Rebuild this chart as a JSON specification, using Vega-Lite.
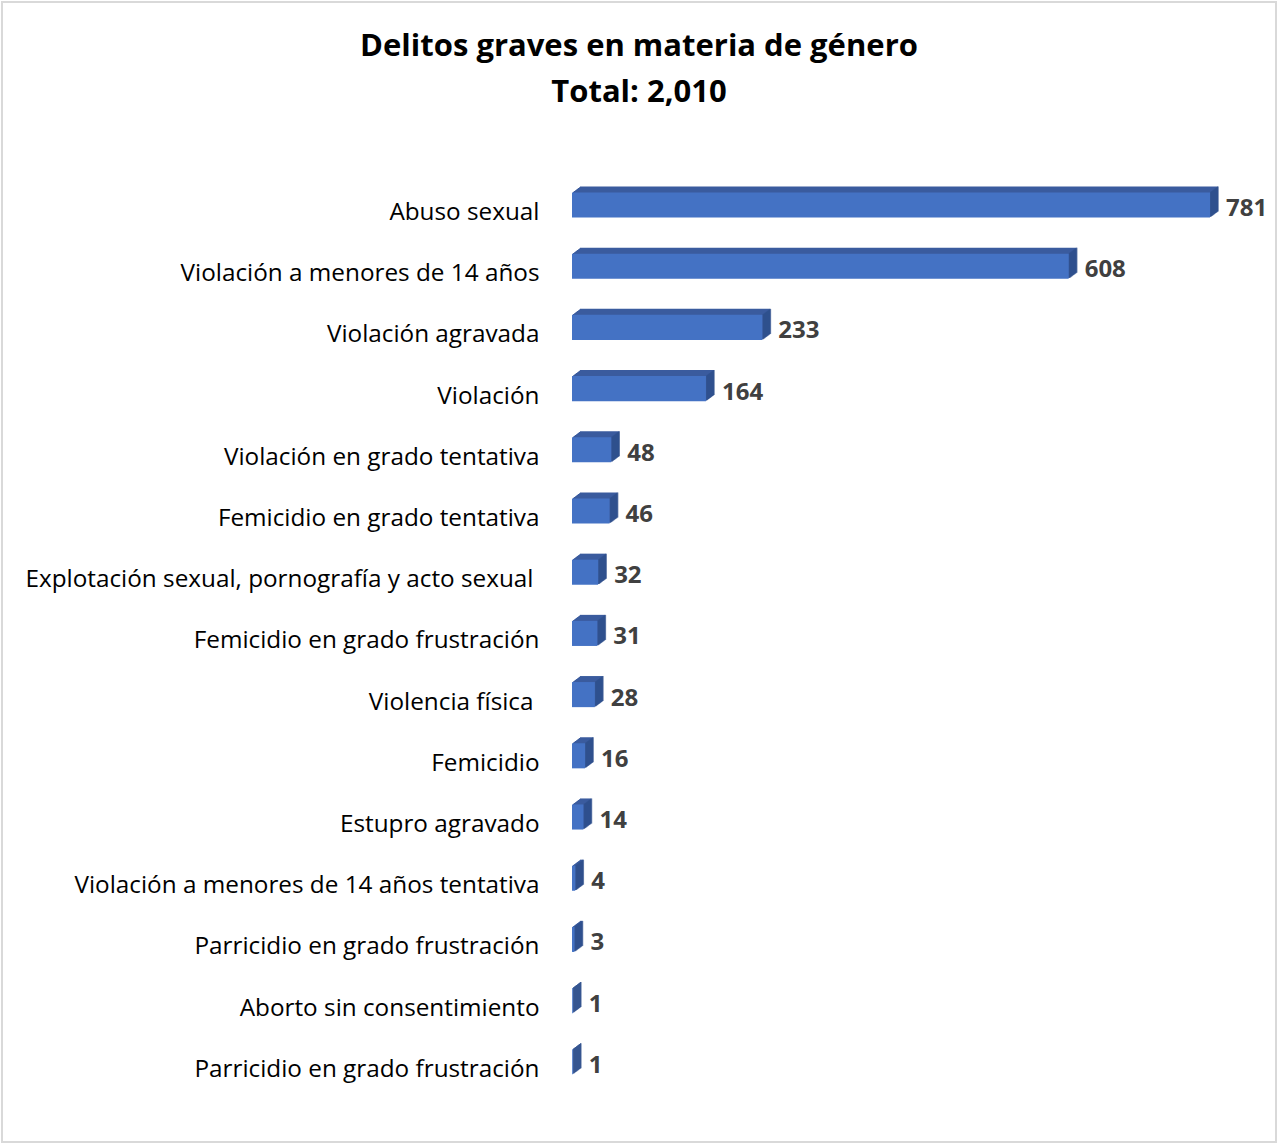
{
  "$schema": "https://vega.github.io/schema/vega-lite/v6.json",
  "width": 1274,
  "height": 1140,
  "autosize": {"type": "none"},
  "padding": {"left": 2, "top": 2, "right": 2, "bottom": 2},
  "background": "white",
  "config": {"view": {"stroke": "#d9d9d9", "strokeWidth": 2}, "font": "Open Sans"},
  "title": {
    "text": ["Delitos graves en materia de género", "Total: 2,010"],
    "fontSize": 31,
    "fontWeight": "bold",
    "color": "#000000",
    "anchor": "middle",
    "frame": "group",
    "baseline": "top",
    "offset": -107,
    "lineHeight": 46,
    "font": "Open Sans"
  },
  "data": {
    "values": [
      {"cat": "Abuso sexual", "n": 781},
      {"cat": "Violación a menores de 14 años", "n": 608},
      {"cat": "Violación agravada", "n": 233},
      {"cat": "Violación", "n": 164},
      {"cat": "Violación en grado tentativa", "n": 48},
      {"cat": "Femicidio en grado tentativa", "n": 46},
      {"cat": "Explotación sexual, pornografía y acto sexual", "n": 32},
      {"cat": "Femicidio en grado frustración", "n": 31},
      {"cat": "Violencia física", "n": 28},
      {"cat": "Femicidio", "n": 16},
      {"cat": "Estupro agravado", "n": 14},
      {"cat": "Violación a menores de 14 años tentativa", "n": 4},
      {"cat": "Parricidio en grado frustración", "n": 3},
      {"cat": "Aborto sin consentimiento", "n": 1},
      {"cat": "Parricidio en grado frustración\u200b", "n": 1}
    ]
  },
  "encoding": {
    "y": {
      "field": "cat",
      "type": "nominal",
      "sort": null,
      "scale": {"range": [172.4, 1090.4], "paddingInner": 0.59, "paddingOuter": 0.295},
      "axis": {
        "title": null,
        "domain": false,
        "ticks": false,
        "grid": false,
        "labelPadding": {"condition": {"test": "indexof(datum.label, 'Explotaci') >= 0 || indexof(datum.label, 'Violencia f') >= 0", "value": 16}, "value": 10},
        "offset": -547,
        "labelFontSize": 24.3,
        "labelColor": "#000000",
        "labelFont": "Open Sans",
        "labelLimit": 700,
        "labelOffset": 8
      }
    },
    "x": {
      "field": "n",
      "type": "quantitative",
      "scale": {"domain": [0, 781], "range": [570, 1208], "nice": false, "zero": true},
      "axis": null
    }
  },
  "layer": [
    {"mark": {"type": "bar", "color": "#3A5B9E", "xOffset": 1, "x2Offset": 1, "yOffset": -0.75, "y2Offset": -0.75}},
    {"mark": {"type": "bar", "color": "#3A5B9E", "xOffset": 2, "x2Offset": 2, "yOffset": -1.5, "y2Offset": -1.5}},
    {"mark": {"type": "bar", "color": "#3A5B9E", "xOffset": 3, "x2Offset": 3, "yOffset": -2.25, "y2Offset": -2.25}},
    {"mark": {"type": "bar", "color": "#3A5B9E", "xOffset": 4, "x2Offset": 4, "yOffset": -3, "y2Offset": -3}},
    {"mark": {"type": "bar", "color": "#3A5B9E", "xOffset": 5, "x2Offset": 5, "yOffset": -3.75, "y2Offset": -3.75}},
    {"mark": {"type": "bar", "color": "#3A5B9E", "xOffset": 6, "x2Offset": 6, "yOffset": -4.5, "y2Offset": -4.5}},
    {"mark": {"type": "bar", "color": "#3A5B9E", "xOffset": 7, "x2Offset": 7, "yOffset": -5.25, "y2Offset": -5.25}},
    {"mark": {"type": "bar", "color": "#3A5B9E", "xOffset": 8, "x2Offset": 8, "yOffset": -6, "y2Offset": -6}},
    {"mark": {"type": "tick", "color": "#2E4E8A", "size": 25, "thickness": 1.6, "xOffset": 1, "yOffset": -0.75}},
    {"mark": {"type": "tick", "color": "#2E4E8A", "size": 25, "thickness": 1.6, "xOffset": 2, "yOffset": -1.5}},
    {"mark": {"type": "tick", "color": "#2E4E8A", "size": 25, "thickness": 1.6, "xOffset": 3, "yOffset": -2.25}},
    {"mark": {"type": "tick", "color": "#2E4E8A", "size": 25, "thickness": 1.6, "xOffset": 4, "yOffset": -3}},
    {"mark": {"type": "tick", "color": "#2E4E8A", "size": 25, "thickness": 1.6, "xOffset": 5, "yOffset": -3.75}},
    {"mark": {"type": "tick", "color": "#2E4E8A", "size": 25, "thickness": 1.6, "xOffset": 6, "yOffset": -4.5}},
    {"mark": {"type": "tick", "color": "#2E4E8A", "size": 25, "thickness": 1.6, "xOffset": 7, "yOffset": -5.25}},
    {"mark": {"type": "tick", "color": "#2E4E8A", "size": 25, "thickness": 1.6, "xOffset": 8, "yOffset": -6}},
    {"mark": {"type": "bar", "color": "#4472C4"}},
    {
      "mark": {"type": "text", "align": "left", "baseline": "middle", "dx": 16, "dy": 4, "fontSize": 24, "fontWeight": "bold", "color": "#404040", "font": "Open Sans"},
      "encoding": {"text": {"field": "n", "type": "quantitative"}}
    }
  ]
}
